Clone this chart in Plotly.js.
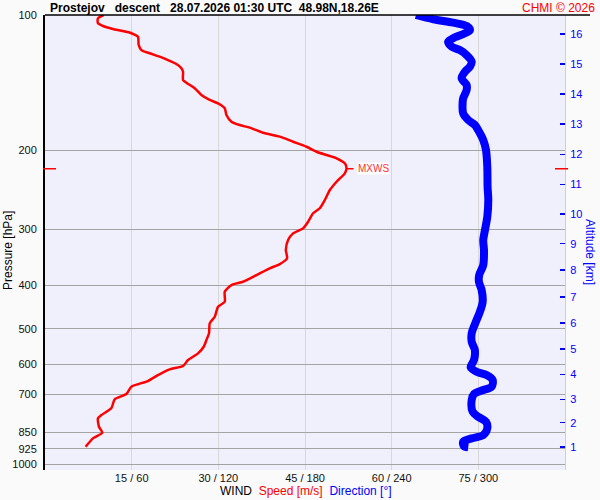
<!DOCTYPE html>
<html><head><meta charset="utf-8">
<script src="https://cdn.plot.ly/plotly-3.0.1.min.js"></script>
<style>html,body{margin:0;padding:0;background:#fafafa}</style>
</head><body><div id="chart" style="width:600px;height:500px"></div>
<script>
// Wind speed profile [m/s] vs pressure [hPa]
const speedPressure = [100,101.7,104.3,105.8,107.4,108.4,109.8,111.8,116.6,119.7,121.7,123.8,126.0,128.6,131.4,133.8,139.5,141.5,145.6,150.7,154.6,157.3,161.3,167.0,172.8,175.8,178.2,182.9,186.6,191.5,196.5,201.6,205.0,208.5,213.9,219.5,225.2,235.1,245.3,258.2,269.4,276.4,288.6,298.6,306.4,317.1,333.8,348.3,358.6,366.6,379.5,392.7,399.4,413.4,435.2,446.5,469.9,486.1,511.6,529.5,548.0,567.0,586.7,605.0,615.3,633.6,653.3,672.7,698.4,717.6,751.5,778.0,791.2,825.9,851.8,876.7,915.2];
const speedValues = [10.15,9.16,9.16,10.03,11.76,13.22,14.95,16.09,16.21,16.68,18.12,19.85,21.29,22.74,23.61,23.89,23.89,24.47,25.91,27.07,28.51,29.95,31.11,31.40,32.27,33.71,35.44,37.74,40.64,42.94,45.26,46.99,48.72,50.46,51.89,52.19,51.89,50.46,49.30,48.43,47.56,46.40,45.54,44.67,42.94,42.07,41.68,41.90,40.64,38.90,36.60,34.28,32.27,31.11,31.11,29.95,29.38,28.51,28.39,27.94,27.47,26.48,24.75,23.89,21.58,19.56,17.82,14.95,14.08,12.06,11.48,9.75,9.16,9.34,9.92,8.30,7.03];
// Wind direction profile [deg] vs pressure [hPa]
const dirPressure = [100,102.2,104.0,105.8,108.0,109.8,112.1,114.7,117.6,119.7,122.8,127.0,130.3,133.8,138.3,143.2,146.9,153.3,157.3,165.6,171.3,175.8,183.4,189.8,199.8,217.7,241.3,258.2,281.4,301.2,317.1,333.8,360.5,379.5,392.7,409.9,435.2,457.9,482.2,511.6,534.2,557.4,586.7,609.0,622.9,633.6,650.0,672.7,684.2,698.4,720.3,764.8,784.8,805.1,832.8,861.9,876.7,892.0,911.9,918.0];
const dirValues = [256.8,268.8,282.6,291.9,294.2,290.7,283.8,279.1,281.5,287.2,291.9,295.4,294.2,290.7,288.4,291.9,291.9,289.5,289.1,289.5,293.0,297.6,301.1,303.4,305.3,306.2,306.4,306.9,306.2,304.6,303.4,303.9,303.4,300.6,300.4,302.3,303.0,301.1,298.3,295.4,295.4,297.6,297.0,294.7,298.8,305.7,309.9,309.2,303.4,297.0,295.4,296.1,299.9,305.3,306.2,303.4,295.4,289.5,290.0,293.0];
const pressureTicks = [100,200,300,400,500,600,700,850,925,1000];
const altitudeTickPressure = [915.2,809.1,717.6,631.2,553.7,484.6,424.1,369.8,323.1,277.5,238.3,204.3,174.8,149.9,128.6,110.2];
const altitudeTickLabels = ['1','2','3','4','5','6','7','8','9','10','11','12','13','14','15','16'];
const windTickVals = [15,30,45,60,75];
const windTickLabels = ['15 / 60','30 / 120','45 / 180','60 / 240','75 / 300'];
const mxwsPressure = 220;
const mxwsSpeed = 52.2;

const FONT = 'Liberation Sans, Arial, sans-serif';
const yRange = [Math.log10(1031), 2];
const nb = '\u00a0';

const traces = [
  {x: dirValues, y: dirPressure, xaxis: 'x2', yaxis: 'y', mode: 'lines',
   line: {color: '#0000ff', width: 8, shape: 'spline', smoothing: 0.9}, hoverinfo: 'skip', showlegend: false},
  {x: speedValues, y: speedPressure, xaxis: 'x', yaxis: 'y', mode: 'lines',
   line: {color: '#ff0000', width: 2.5, shape: 'spline', smoothing: 0.6}, hoverinfo: 'skip', showlegend: false},
  {x: [null], y: [null], xaxis: 'x', yaxis: 'y2', mode: 'lines', showlegend: false}
];

const layout = {
  width: 600, height: 500,
  margin: {l: 45, r: 35, t: 15, b: 30},
  paper_bgcolor: '#fafafa', plot_bgcolor: '#f0f0fd',
  font: {family: FONT, size: 11, color: '#111'},
  showlegend: false,
  title: {text: 'Prostejov' + nb+nb+nb + 'descent' + nb+nb+nb + '28.07.2026 01:30 UTC' + nb+nb + '48.98N,18.26E',
          font: {family: FONT, size: 12, color: '#000', weight: 'bold'},
          x: 50/600, xanchor: 'left', xref: 'container', y: 1 - 8/500, yanchor: 'middle', yref: 'container'},
  xaxis: {range: [0, 90], tickvals: windTickVals, ticktext: windTickLabels, showgrid: true,
          gridcolor: '#d8d8d8', gridwidth: 1, zeroline: false, showline: false, ticks: '',
          tickfont: {size: 11, color: '#111'}, fixedrange: true},
  xaxis2: {range: [0, 360], overlaying: 'x', anchor: 'y', side: 'top', visible: false},
  yaxis: {type: 'log', range: yRange, tickvals: pressureTicks, ticktext: pressureTicks.map(String),
          showgrid: true, gridcolor: '#a4a4a4', gridwidth: 1, zeroline: false,
          showline: true, linecolor: '#000', linewidth: 2, ticks: '', ticklabelstandoff: 4,
          tickfont: {size: 11, color: '#111'}},
  yaxis2: {type: 'log', range: yRange, overlaying: 'y', side: 'right', anchor: 'x',
           tickvals: altitudeTickPressure, ticktext: altitudeTickLabels,
           ticks: 'inside', ticklen: 5, tickwidth: 1.5, tickcolor: '#0000ff',
           tickfont: {size: 11, color: '#0000ff'}, showgrid: false, zeroline: false,
           showline: true, linecolor: '#cfcfcf', linewidth: 1, ticklabelstandoff: 2},
  shapes: [
    {type: 'line', xref: 'paper', yref: 'paper', x0: 0, x1: 545/520, y0: 1, y1: 1,
     line: {color: '#000', width: 1.5}},
    {type: 'line', xref: 'paper', yref: 'y', x0: -2/520, x1: 11/520, y0: mxwsPressure, y1: mxwsPressure,
     line: {color: '#ff0000', width: 1.5}},
    {type: 'line', xref: 'paper', yref: 'y', x0: 510/520, x1: 523/520, y0: mxwsPressure, y1: mxwsPressure,
     line: {color: '#ff0000', width: 1.5}},
    {type: 'line', xref: 'x', yref: 'y', x0: mxwsSpeed, x1: mxwsSpeed + 1.2, y0: mxwsPressure, y1: mxwsPressure,
     line: {color: '#ff0000', width: 1.5}}
  ],
  annotations: [
    {text: 'CHMI © 2026', xref: 'paper', yref: 'paper', x: 552/520, y: 1 + 7/455,
     xanchor: 'right', yanchor: 'middle', showarrow: false, font: {size: 12, color: '#ff0000'}},
    {text: 'MXWS', xref: 'x', yref: 'y', x: mxwsSpeed + 1.2, y: Math.log10(mxwsPressure),
     xanchor: 'left', yanchor: 'middle', xshift: 3, showarrow: false, bgcolor: '#ffffff', borderpad: 0,
     font: {size: 10, color: '#ff3030'}},
    {text: 'WIND' + nb+nb + '<span style="color:#ff0000">Speed [m/s]</span>' + nb+nb + '<span style="color:#0000ff">Direction [°]</span>',
     xref: 'paper', yref: 'paper', x: 261/520, y: -21/455, xanchor: 'center', yanchor: 'middle',
     showarrow: false, font: {size: 12, color: '#000'}},
    {text: 'Pressure [hPa]', xref: 'paper', yref: 'paper', x: -37/520, y: 219/455,
     xanchor: 'center', yanchor: 'middle', textangle: -90, showarrow: false, font: {size: 12, color: '#000'}},
    {text: 'Altitude [km]', xref: 'paper', yref: 'paper', x: 545/520, y: 218/455,
     xanchor: 'center', yanchor: 'middle', textangle: 90, showarrow: false, font: {size: 12, color: '#0000ff'}}
  ]
};

Plotly.newPlot('chart', traces, layout, {staticPlot: true, displayModeBar: false});
</script></body></html>
